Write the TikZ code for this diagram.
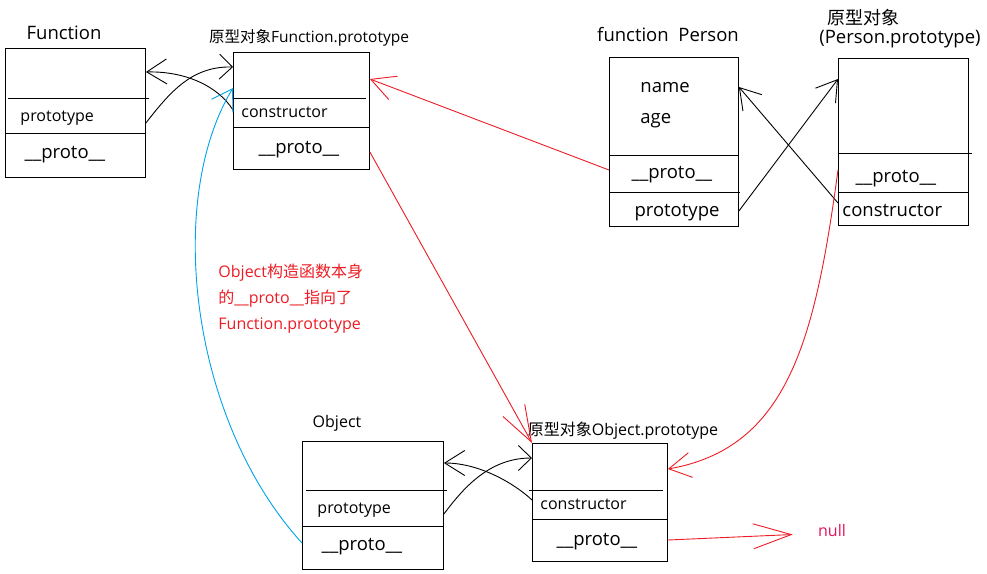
\documentclass[tikz,border=0pt]{standalone}
\usepackage{fontspec}
\setmainfont{Open Sans}
\newfontfamily\cjk{Noto Sans CJK SC}
\usetikzlibrary{arrows.meta}
\definecolor{pred}{RGB}{237,28,36}
\definecolor{pblue}{RGB}{0,162,232}
\definecolor{pnull}{RGB}{230,20,90}

\begin{document}
\begin{tikzpicture}[x=1pt,y=-1pt,line width=0.9pt,
  box/.style={draw, anchor=north west, inner sep=0pt},
  txt/.style={inner sep=0pt, yshift=-2.5pt, font=\fontsize{16}{19}\selectfont},
  big/.style={inner sep=0pt, yshift=-2.5pt, font=\fontsize{18.5}{22}\selectfont},
  link/.style={-{Straight Barb[length=#1,width=25pt]}},
  link/.default=20pt]
  \useasboundingbox (0,0) rectangle (987,573);

  % Function
  \node[big] (fnlabel) at (64,30) {Function};
  \node[box, minimum width=140pt, minimum height=129pt] (fn) at (5,48) {};
  \draw (8,98) -- (149,98);
  \draw (5,133) -- (145,133);
  \node[txt, anchor=west] (fnprot) at (20,116) {prototype};
  \node[big] (fnproto) at (65,152) {\_\_proto\_\_};

  % Function.prototype
  \node[txt, font=\fontsize{15.5}{18}\selectfont] (fplabel) at (309,35) {{\cjk 原型对象}Function.prototype};
  \node[box, minimum width=136pt, minimum height=117pt] (fp) at (233,52) {};
  \draw (233,98) -- (366,98);
  \draw (233,127) -- (369,127);
  \node[txt, anchor=west] (fpcons) at (241,110) {constructor};
  \node[big] (fpproto) at (299,147) {\_\_proto\_\_};

  % function Person
  \node[big] (pnlabel) at (668,32) {function\ \ Person};
  \node[box, minimum width=129pt, minimum height=169pt] (pn) at (609,57) {};
  \draw (609,155) -- (738,155);
  \draw (609,192) -- (740,192);
  \node[big, anchor=west] (pnname) at (640,85) {name};
  \node[big, anchor=west] (pnage) at (640,118) {age};
  \node[big] (pnproto) at (672,172) {\_\_proto\_\_};
  \node[big] (pnprot) at (677,210) {prototype};

  % Person.prototype
  \node[big, font=\fontsize{18}{21}\selectfont\cjk] (pplabel) at (863,15) {原型对象};
  \node[big] (pplabelb) at (900,37) {(Person.prototype)};
  \node[box, minimum width=130pt, minimum height=167pt] (pp) at (838,58) {};
  \draw (839,153) -- (972,153);
  \draw (838,192) -- (968,192);
  \node[big] (ppproto) at (896,176) {\_\_proto\_\_};
  \node[big, anchor=west] (ppcons) at (842,208) {constructor};

  % Object
  \node[txt] (oblabel) at (337,421) {Object};
  \node[box, minimum width=141pt, minimum height=128pt] (ob) at (302,441) {};
  \draw (306,490) -- (447,490);
  \draw (302,526) -- (443,526);
  \node[txt, anchor=west] (obprot) at (317,508) {prototype};
  \node[big] (obproto) at (362,544) {\_\_proto\_\_};

  % Object.prototype
  \node[txt] (oplabel) at (623,428) {{\cjk 原型对象}Object.prototype};
  \node[box, minimum width=135pt, minimum height=118pt] (op) at (532,443) {};
  \draw (529,490) -- (663,490);
  \draw (532,519) -- (667,519);
  \node[txt, anchor=west] (opcons) at (540,502) {constructor};
  \node[big] (opproto) at (597,539) {\_\_proto\_\_};

  \node[txt, text=pnull] (null) at (832,528) {null};
  \node[txt, text=pred, anchor=west, align=left, font=\fontsize{16}{26}\selectfont] (note) at (218,296)
    {Object{\cjk 构造函数本身}\\{\cjk 的}\_\_proto\_\_{\cjk 指向了}\\Function.prototype};

  % prototype / constructor
  \draw[link=13pt] ([yshift=-75pt]fn.north east) .. controls (170,92) and (192,66) .. ([yshift=-15pt]fp.north west);
  \draw[link] ([yshift=-58pt]fp.north west) .. controls (218,86) and (185,71) .. ([yshift=-24pt]fn.north east);
  \draw[link] ([yshift=-154pt]pn.north east) -- ([yshift=-21pt]pp.north west);
  \draw[link] ([yshift=-145pt]pp.north west) -- ([yshift=-30pt]pn.north east);
  \draw[link=13pt] ([yshift=-73pt]ob.north east) .. controls (462,490) and (488,458) .. ([yshift=-15pt]op.north west);
  \draw[link] ([yshift=-57pt]op.north west) .. controls (515,484) and (480,463) .. ([yshift=-22pt]ob.north east);

  % __proto__
  \draw[pred, link=24pt] ([yshift=-113pt]pn.north west) -- ([yshift=-27pt]fp.north east);
  \draw[pred, link=36pt] ([yshift=-100pt]fp.north east) -- (op.north west);
  \draw[pred, link=22pt] ([yshift=-112pt]pp.north west) .. controls (815,340) and (788,448) .. ([yshift=-26pt]op.north east);
  \draw[pred, link=38pt] ([yshift=-97pt]op.north east) -- ([xshift=-25pt,yshift=-4pt]null.west);
  \draw[pblue, link] ([yshift=-102pt]ob.north west) .. controls (190,420) and (165,200) .. ([yshift=-36pt]fp.north west);
\end{tikzpicture}
\end{document}
